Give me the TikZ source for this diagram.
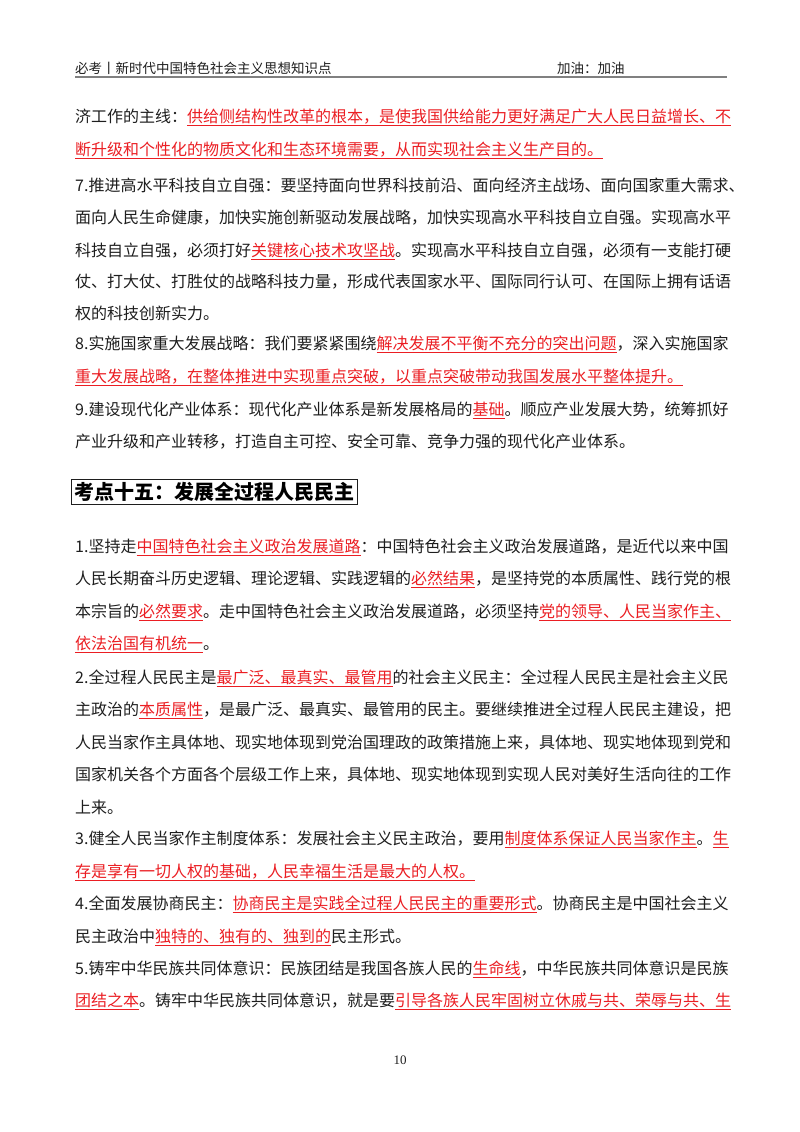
\documentclass[tikz,border=0pt]{standalone}
\usepackage{fontspec}
\setmainfont{Noto Sans CJK SC}
\newfontfamily\serif{Liberation Serif}
\XeTeXinterchartokenstate=1
\newcommand\sg{\hskip0pt plus 1pt\relax}
\XeTeXinterchartoks 1 1 = {\sg}
\XeTeXinterchartoks 1 2 = {\sg}
\XeTeXinterchartoks 1 3 = {\sg}
\XeTeXinterchartoks 2 1 = {\sg}
\XeTeXinterchartoks 3 1 = {\sg}
\XeTeXinterchartoks 3 2 = {\sg}
\XeTeXinterchartoks 0 1 = {\sg}
\XeTeXinterchartoks 1 0 = {\sg}
\XeTeXinterchartoks 3 0 = {\sg}
\XeTeXinterchartoks 0 3 = {\sg}
\definecolor{ured}{RGB}{235,30,35}
\definecolor{txt}{RGB}{30,30,30}
\newcommand\R[1]{{\color{ured}\setbox0\hbox{#1}\rlap{\raisebox{-3.5pt}{\rule{\wd0}{0.8pt}}}\box0}}
\tikzset{ln/.style={anchor=west,inner sep=0pt,font=\fontsize{16}{18}\selectfont,text=txt}}
\newcommand\J[3]{\node[ln] (#1) at (75,#2) {\hbox to 652pt{#3}};}
\newcommand\E[3]{\node[ln] (#1) at (75,#2) {#3};}
\begin{document}
\begin{tikzpicture}[x=1pt,y=-1pt]
\useasboundingbox[fill=white] (0,0) rectangle (800,1132);
\node[anchor=west,inner sep=0pt,font=\fontsize{13.5}{15}\selectfont,text=txt] (h1) at (75,68) {必考丨新时代中国特色社会主义思想知识点};
\node[anchor=west,inner sep=0pt,font=\fontsize{13.5}{15}\selectfont,text=txt] (h2) at (557,68) {加油：加油};
\draw[line width=2.5pt,gray] (75,77) -- (727,77);
\J{l1}{117}{济工作的主线：\R{供给侧结构性改革的根本，是使我国供给能力更好满足广大人民日益增长、不}}
\E{l2}{150}{\R{断升级和个性化的物质文化和生态环境需要，从而实现社会主义生产目的。}}
\J{l3}{185}{7.推进高水平科技自立自强：要坚持面向世界科技前沿、面向经济主战场、面向国家重大需求、}
\J{l4}{218}{面向人民生命健康，加快实施创新驱动发展战略，加快实现高水平科技自立自强。实现高水平}
\J{l5}{251}{科技自立自强，必须打好\R{关键核心技术攻坚战}。实现高水平科技自立自强，必须有一支能打硬}
\J{l6}{282}{仗、打大仗、打胜仗的战略科技力量，形成代表国家水平、国际同行认可、在国际上拥有话语}
\E{l7}{313}{权的科技创新实力。}
\J{l8}{344}{8.实施国家重大发展战略：我们要紧紧围绕\R{解决发展不平衡不充分的突出问题}，深入实施国家}
\E{l9}{377}{\R{重大发展战略，在整体推进中实现重点突破，以重点突破带动我国发展水平整体提升。}}
\J{l10}{410}{9.建设现代化产业体系：现代化产业体系是新发展格局的\R{基础}。顺应产业发展大势，统筹抓好}
\E{l11}{442}{产业升级和产业转移，打造自主可控、安全可靠、竞争力强的现代化产业体系。}
\node[draw=txt,line width=0.8pt,anchor=west,inner xsep=3pt,inner ysep=3pt,font=\fontsize{20}{22}\selectfont\bfseries,text=black] (title) at (71,492) {考点十五：发展全过程人民民主};
\J{m1}{547}{1.坚持走\R{中国特色社会主义政治发展道路}：中国特色社会主义政治发展道路，是近代以来中国}
\J{m2}{579}{人民长期奋斗历史逻辑、理论逻辑、实践逻辑的\R{必然结果}，是坚持党的本质属性、践行党的根}
\J{m3}{612}{本宗旨的\R{必然要求}。走中国特色社会主义政治发展道路，必须坚持\R{党的领导、人民当家作主、}}
\E{m4}{644}{\R{依法治国有机统一}。}
\J{m5}{678}{2.全过程人民民主是\R{最广泛、最真实、最管用}的社会主义民主：全过程人民民主是社会主义民}
\J{m6}{710}{主政治的\R{本质属性}，是最广泛、最真实、最管用的民主。要继续推进全过程人民民主建设，把}
\J{m7}{743}{人民当家作主具体地、现实地体现到党治国理政的政策措施上来，具体地、现实地体现到党和}
\J{m8}{775}{国家机关各个方面各个层级工作上来，具体地、现实地体现到实现人民对美好生活向往的工作}
\E{m9}{807}{上来。}
\J{m10}{839}{3.健全人民当家作主制度体系：发展社会主义民主政治，要用\R{制度体系保证人民当家作主}。\R{生}}
\E{m11}{872}{\R{存是享有一切人权的基础，人民幸福生活是最大的人权。}}
\J{m12}{904}{4.全面发展协商民主：\R{协商民主是实践全过程人民民主的重要形式}。协商民主是中国社会主义}
\E{m13}{937}{民主政治中\R{独特的、独有的、独到的}民主形式。}
\J{m14}{969}{5.铸牢中华民族共同体意识：民族团结是我国各族人民的\R{生命线}，中华民族共同体意识是民族}
\J{m15}{1001}{\R{团结之本}。铸牢中华民族共同体意识，就是要\R{引导各族人民牢固树立休戚与共、荣辱与共、生}}
\node[inner sep=0pt,font=\serif\fontsize{13}{15}\selectfont,text=txt] (pg) at (400,1060) {10};
\end{tikzpicture}
\end{document}
